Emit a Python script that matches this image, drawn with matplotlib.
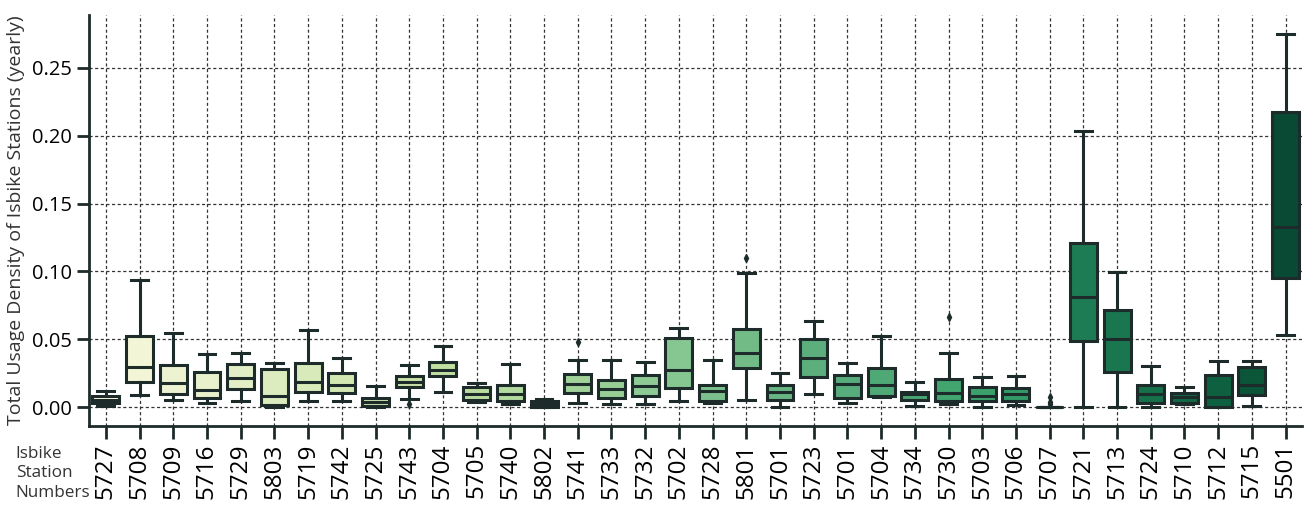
import numpy as np
import matplotlib
matplotlib.use("Agg")
import matplotlib.pyplot as plt
from matplotlib.colors import LinearSegmentedColormap

plt.rcParams['font.family'] = ['Open Sans', 'DejaVu Sans']

stations = ["5727", "5708", "5709", "5716", "5729", "5803", "5719", "5742", "5725",
            "5743", "5704", "5705", "5740", "5802", "5741", "5733", "5732", "5702",
            "5728", "5801", "5701", "5723", "5701", "5704", "5734", "5730", "5703",
            "5706", "5707", "5721", "5713", "5724", "5710", "5712", "5715", "5501"]

whis_low = [0.0007, 0.0091, 0.0056, 0.0032, 0.0044, 0.0000, 0.0044, 0.0044, 0.0000,
            0.0064, 0.0113, 0.0041, 0.0024, 0.0000, 0.0030, 0.0024, 0.0024, 0.0046,
            0.0030, 0.0054, 0.0002, 0.0096, 0.0034, 0.0076, 0.0012, 0.0024, 0.0005,
            0.0017, 0.0000, 0.0000, 0.0000, 0.0000, 0.0024, 0.0000, 0.0010, 0.0529]
q1 = [0.0032, 0.0184, 0.0100, 0.0069, 0.0135, 0.0015, 0.0115, 0.0103, 0.0007,
      0.0152, 0.0229, 0.0056, 0.0046, 0.0005, 0.0106, 0.0066, 0.0086, 0.0145,
      0.0044, 0.0292, 0.0054, 0.0226, 0.0066, 0.0082, 0.0054, 0.0047, 0.0047,
      0.0047, 0.0000, 0.0490, 0.0261, 0.0030, 0.0034, 0.0005, 0.0091, 0.0953]
median = [0.0056, 0.0295, 0.0179, 0.0125, 0.0214, 0.0086, 0.0189, 0.0165, 0.0037,
          0.0189, 0.0273, 0.0100, 0.0096, 0.0020, 0.0174, 0.0135, 0.0155, 0.0277,
          0.0122, 0.0403, 0.0110, 0.0362, 0.0174, 0.0160, 0.0096, 0.0108, 0.0086,
          0.0098, 0.0000, 0.0812, 0.0502, 0.0098, 0.0074, 0.0074, 0.0160, 0.1329]
q3 = [0.0086, 0.0524, 0.0312, 0.0263, 0.0320, 0.0283, 0.0327, 0.0251, 0.0069,
      0.0233, 0.0332, 0.0150, 0.0160, 0.0046, 0.0246, 0.0201, 0.0238, 0.0509,
      0.0167, 0.0573, 0.0167, 0.0499, 0.0238, 0.0290, 0.0115, 0.0207, 0.0152,
      0.0140, 0.0000, 0.1206, 0.0719, 0.0160, 0.0103, 0.0239, 0.0293, 0.2171]
whis_high = [0.0118, 0.0940, 0.0548, 0.0390, 0.0396, 0.0325, 0.0568, 0.0366, 0.0157,
             0.0310, 0.0450, 0.0180, 0.0317, 0.0060, 0.0351, 0.0351, 0.0332, 0.0583,
             0.0347, 0.0986, 0.0253, 0.0632, 0.0325, 0.0528, 0.0189, 0.0399, 0.0226,
             0.0231, 0.0000, 0.2031, 0.0994, 0.0307, 0.0148, 0.0344, 0.0344, 0.2750]
outliers = {9: [0.0022], 14: [0.0480], 19: [0.1100], 25: [0.0662],
            28: [0.0074, 0.0040, 0.0020]}

ylabel = "Total Usage Density of Isbike Stations (yearly)"
xlabel = "Isbike\nStation\nNumbers"

# yellow -> green ramp
ramp = LinearSegmentedColormap.from_list("isbike", [
    (0.00, "#f7f8dc"), (0.28, "#c4e0a3"), (0.48, "#88c892"), (0.60, "#5caf7d"),
    (0.76, "#38a06a"), (0.82, "#1f7f55"), (0.94, "#0f6341"), (1.00, "#084a33")])
box_colors = [ramp(v) for v in np.linspace(0, 1, len(stations))]

line_col = "#1d2b2b"
stats = []
for i, name in enumerate(stations):
    stats.append(dict(label=name, whislo=whis_low[i], q1=q1[i], med=median[i],
                      q3=q3[i], whishi=whis_high[i], fliers=outliers.get(i, [])))

fig = plt.figure(figsize=(13.09, 5.07), dpi=100)
ax = fig.add_axes([0.068, 0.16, 0.927, 0.81])

bp = ax.bxp(stats, positions=range(len(stats)), widths=0.8, capwidths=0.5,
            patch_artist=True,
            boxprops=dict(edgecolor=line_col, linewidth=2.2),
            medianprops=dict(color=line_col, linewidth=2.2),
            whiskerprops=dict(color=line_col, linewidth=2.2),
            capprops=dict(color=line_col, linewidth=2.2),
            flierprops=dict(marker="d", markersize=4, markerfacecolor=line_col,
                            markeredgecolor=line_col))
for patch, c in zip(bp["boxes"], box_colors):
    patch.set_facecolor(c)

ax.set_xlim(-0.5, len(stats) - 0.5)
ax.set_yticks([0.0, 0.05, 0.10, 0.15, 0.20, 0.25])
ax.set_yticklabels(["0.00", "0.05", "0.10", "0.15", "0.20", "0.25"])
ax.set_xticks(range(len(stats)))
ax.set_xticklabels(stations, rotation=90, fontsize=17.5)
ax.tick_params(axis="y", labelsize=14.5, length=9, width=2, color=line_col)
ax.tick_params(axis="x", length=9, width=2, color=line_col)
ax.set_axisbelow(True)
ax.grid(True, color="#333333", linestyle=(0, (2.5, 2)), linewidth=0.9)
for s in ["top", "right"]:
    ax.spines[s].set_visible(False)
for s in ["left", "bottom"]:
    ax.spines[s].set_color(line_col)
    ax.spines[s].set_linewidth(2)

ax.set_ylabel(ylabel, fontsize=14, color="#333333", labelpad=5)
fig.text(0.012, 0.012, xlabel, fontsize=12.3, color="#333333",
         ha="left", va="bottom", linespacing=1.3)

fig.savefig("out.png", dpi=100)
